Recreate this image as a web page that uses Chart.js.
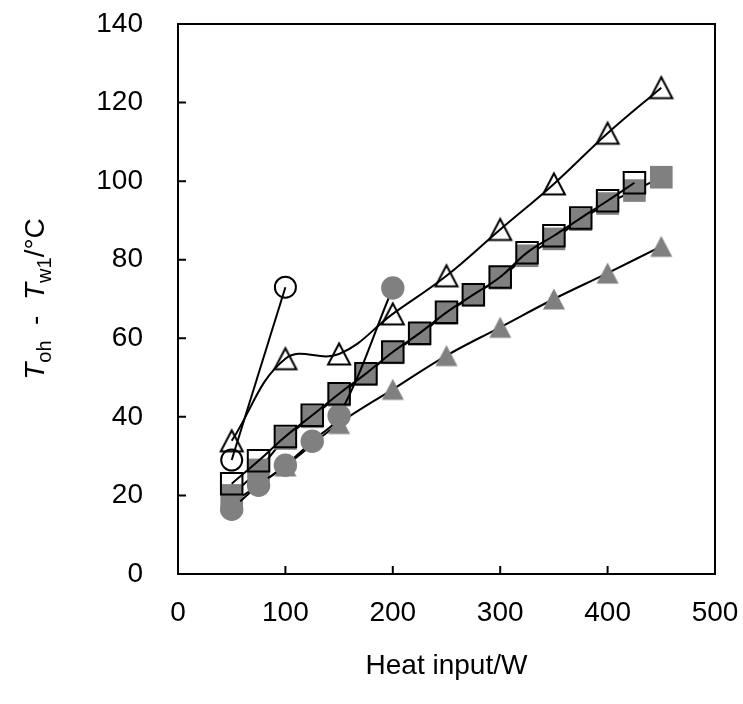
<!DOCTYPE html>
<html>
<head>
<meta charset="utf-8">
<script src="https://cdn.jsdelivr.net/npm/chart.js@4"></script>
<style>
  body { margin: 0; background: #fff; }
  #wrap { width: 743px; height: 704px; }
</style>
</head>
<body>
<div id="wrap"><canvas id="myChart"></canvas></div>
<script>
// data (heat input in W, temperature difference in degC)
const openCircleX = [50, 100];
const openCircleY = [29, 73];

const openTriangleX = [50, 100, 150, 200, 250, 300, 350, 400, 450];
const openTriangleY = [33.9, 54.8, 56, 66.2, 75.9, 87.7, 99.3, 112.2, 123.8];

const openSquareX = [50, 75, 100, 125, 150, 175, 200, 225, 250, 275, 300, 325, 350, 375, 400, 425];
const openSquareY = [23, 28.8, 35, 40.4, 45.9, 51, 56.5, 61.3, 66.6, 71.1, 75.6, 81.8, 86.1, 90.6, 95, 99.6];

const grayCircleX = [50, 75, 100, 125, 150, 200];
const grayCircleY = [16.5, 22.6, 27.7, 33.8, 40.3, 72.8];

const graySquareX = [50, 75, 100, 125, 150, 175, 200, 225, 250, 275, 300, 325, 350, 375, 400, 425, 450];
const graySquareY = [20, 26.5, 34.5, 40, 45.5, 50.8, 56.3, 61, 66.3, 71, 75.3, 81, 85.3, 90.2, 94.3, 97.6, 101];

const grayTriangleX = [50, 100, 150, 200, 250, 300, 350, 400, 450];
const grayTriangleY = [18, 27.5, 38.3, 47, 55.6, 62.8, 70, 76.6, 83.4];

const xTicks = [0, 100, 200, 300, 400, 500];
const yTicks = [0, 20, 40, 60, 80, 100, 120, 140];

const gray = "#808080";
const fontFamily = "'Liberation Sans', Arial, sans-serif";

function toPoints(xs, ys) {
  return xs.map((x, i) => ({ x: x, y: ys[i] }));
}

// triangle marker centred on its bounding box (like the original plot)
function triangleMarker(fill, stroke) {
  const c = document.createElement("canvas");
  c.width = 28;
  c.height = 28;
  const g = c.getContext("2d");
  g.beginPath();
  g.moveTo(14, 3.5);
  g.lineTo(25, 24.5);
  g.lineTo(3, 24.5);
  g.closePath();
  if (fill) {
    g.fillStyle = fill;
    g.fill();
  }
  if (stroke) {
    g.strokeStyle = stroke;
    g.lineWidth = 2;
    g.stroke();
  }
  return c;
}

const openTri = triangleMarker(null, "#000");
const grayTri = triangleMarker(gray, null);

// frame, inward tick marks and the y title with subscripts
const framePlugin = {
  id: "frame",
  afterDraw(chart) {
    const ctx = chart.ctx;
    const a = chart.chartArea;
    const xs = chart.scales.x;
    const ys = chart.scales.y;
    ctx.save();
    ctx.strokeStyle = "#000";
    ctx.lineWidth = 2;
    ctx.strokeRect(a.left, a.top, a.right - a.left, a.bottom - a.top);
    ctx.beginPath();
    xTicks.forEach((v) => {
      const px = xs.getPixelForValue(v);
      ctx.moveTo(px, a.bottom);
      ctx.lineTo(px, a.bottom - 8);
    });
    yTicks.forEach((v) => {
      const py = ys.getPixelForValue(v);
      ctx.moveTo(a.left, py);
      ctx.lineTo(a.left + 8, py);
    });
    ctx.stroke();

    // y axis title
    const parts = [
      { t: "T", f: "italic 28px " + fontFamily, dy: 0 },
      { t: "oh", f: "20px " + fontFamily, dy: 7 },
      { t: "  -  ", f: "28px " + fontFamily, dy: 0 },
      { t: "T", f: "italic 28px " + fontFamily, dy: 0 },
      { t: "w1", f: "20px " + fontFamily, dy: 7 },
      { t: "/\u00B0C", f: "28px " + fontFamily, dy: 0 },
    ];
    let total = 0;
    parts.forEach((p) => {
      ctx.font = p.f;
      p.w = ctx.measureText(p.t).width;
      total += p.w;
    });
    ctx.translate(44, (a.top + a.bottom) / 2);
    ctx.rotate(-Math.PI / 2);
    ctx.fillStyle = "#000";
    ctx.textBaseline = "alphabetic";
    let cx = -total / 2;
    parts.forEach((p) => {
      ctx.font = p.f;
      ctx.fillText(p.t, cx, p.dy);
      cx += p.w;
    });
    ctx.restore();
  },
};

const ctx = document.getElementById("myChart").getContext("2d");
const myChart = new Chart(ctx, {
  type: "scatter",
  data: {
    datasets: [
      {
        label: "open circle",
        data: toPoints(openCircleX, openCircleY),
        showLine: true,
        borderColor: "#000",
        borderWidth: 2,
        pointStyle: "circle",
        pointRadius: 10.5,
        pointBorderWidth: 2,
        pointBorderColor: "#000",
        pointBackgroundColor: "rgba(0,0,0,0)",
      },
      {
        label: "open triangle",
        data: toPoints(openTriangleX, openTriangleY),
        showLine: true,
        tension: 0.4,
        borderColor: "#000",
        borderWidth: 2,
        pointStyle: openTri,
        pointRadius: 11,
      },
      {
        label: "open square",
        data: toPoints(openSquareX, openSquareY),
        showLine: true,
        tension: 0.4,
        borderColor: "#000",
        borderWidth: 2,
        pointStyle: "rect",
        pointRadius: 15.2,
        pointBorderWidth: 2,
        pointBorderColor: "#000",
        pointBackgroundColor: "rgba(0,0,0,0)",
      },
      {
        label: "gray circle",
        data: toPoints(grayCircleX, grayCircleY),
        showLine: true,
        tension: 0.4,
        borderColor: "#000",
        borderWidth: 2,
        pointStyle: "circle",
        pointRadius: 11.7,
        pointBorderWidth: 0,
        pointBackgroundColor: gray,
      },
      {
        label: "gray square",
        data: toPoints(graySquareX, graySquareY),
        showLine: true,
        tension: 0.4,
        borderColor: "#000",
        borderWidth: 2,
        pointStyle: "rect",
        pointRadius: 16,
        pointBorderWidth: 0,
        pointBackgroundColor: gray,
      },
      {
        label: "gray triangle",
        data: toPoints(grayTriangleX, grayTriangleY),
        showLine: true,
        tension: 0.4,
        borderColor: "#000",
        borderWidth: 2,
        pointStyle: grayTri,
        pointRadius: 11,
      },
    ],
  },
  options: {
    responsive: true,
    maintainAspectRatio: false,
    animation: false,
    layout: { padding: { left: 0, right: 28, top: 24, bottom: 0 } },
    plugins: {
      legend: { display: false },
      tooltip: { enabled: false },
    },
    scales: {
      x: {
        type: "linear",
        min: 0,
        max: 500,
        afterFit: (s) => {
          s.height = 130;
          s.paddingLeft = 0;
          s.paddingRight = 0;
        },
        afterBuildTicks: (s) => { s.ticks = xTicks.map((v) => ({ value: v })); },
        grid: { display: false, drawTicks: false },
        border: { display: false },
        ticks: {
          padding: 22,
          color: "#000",
          font: { family: fontFamily, size: 28 },
        },
        title: {
          display: true,
          text: "Heat input/W",
          color: "#000",
          font: { family: fontFamily, size: 28 },
          padding: { top: 0, bottom: 21 },
        },
      },
      y: {
        type: "linear",
        min: 0,
        max: 140,
        afterFit: (s) => {
          s.width = 178;
          s.paddingTop = 0;
          s.paddingBottom = 0;
        },
        afterBuildTicks: (s) => { s.ticks = yTicks.map((v) => ({ value: v })); },
        grid: { display: false, drawTicks: false },
        border: { display: false },
        ticks: {
          padding: 35,
          color: "#000",
          font: { family: fontFamily, size: 28 },
        },
      },
    },
  },
  plugins: [framePlugin],
});
</script>
</body>
</html>
